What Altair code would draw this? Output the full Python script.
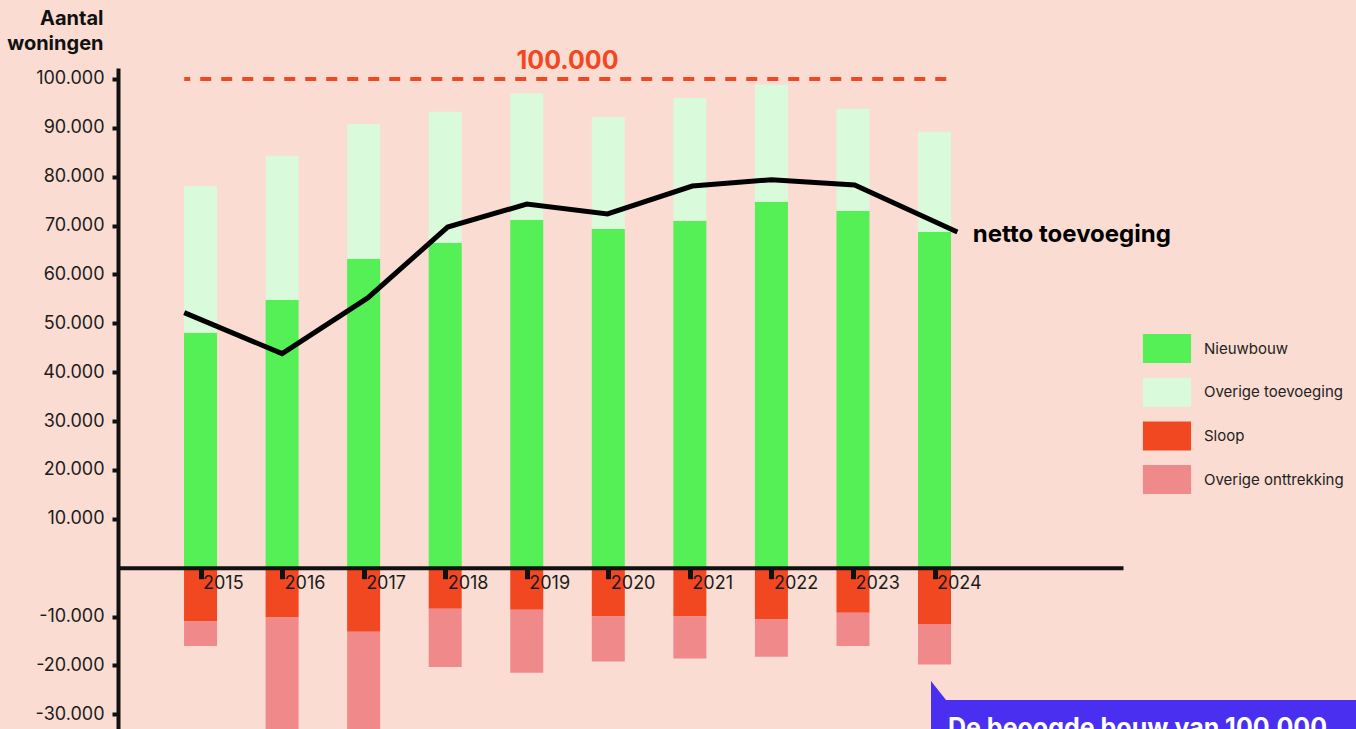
import altair as alt
import pandas as pd

# ---- data ----
years = [2015, 2016, 2017, 2018, 2019, 2020, 2021, 2022, 2023, 2024]
nieuwbouw = [48100, 54800, 63200, 66500, 71200, 69300, 71000, 74900, 73000, 68700]
overige_toevoeging = [30000, 29500, 27600, 26800, 25900, 22900, 25100, 23900, 20900, 20500]
sloop = [-11000, -10200, -13100, -8400, -8600, -10000, -10000, -10600, -9200, -11500]
overige_onttrekking = [-5000, -28000, -24000, -11900, -12900, -9200, -8600, -7600, -6800, -8300]

netto_x = [2014.8, 2016.0, 2017.05, 2018.03, 2019.0, 2019.99, 2021.03, 2022.0, 2023.02, 2024.28]
netto = [52200, 43800, 55200, 69700, 74400, 72400, 78100, 79400, 78300, 68700]

series = ["Nieuwbouw", "Overige toevoeging", "Sloop", "Overige onttrekking"]
colors = ["#55F055", "#DAFADC", "#F24822", "#F08A8A"]

doel_value = 100000
doel_label = "100.000"
doel_start, doel_end = 2014.8, 2024.2
netto_label = "netto toevoeging"
netto_label_pos = (2024.47, 68100)
callout_text = "De beoogde bouw van 100.000"

y_ticks = [-30000, -20000, -10000, 10000, 20000, 30000, 40000, 50000,
           60000, 70000, 80000, 90000, 100000]

FONT = "Inter"
BG = "#FADCD2"
INK = "#111111"

# ---- tables ----
rows = []
for i, yr in enumerate(years):
    rows.append({"jaar": yr, "reeks": series[0], "y0": 0, "y1": nieuwbouw[i]})
    rows.append({"jaar": yr, "reeks": series[1], "y0": nieuwbouw[i],
                 "y1": nieuwbouw[i] + overige_toevoeging[i]})
    rows.append({"jaar": yr, "reeks": series[2], "y0": 0, "y1": sloop[i]})
    rows.append({"jaar": yr, "reeks": series[3], "y0": sloop[i],
                 "y1": sloop[i] + overige_onttrekking[i]})
bars_df = pd.DataFrame(rows)
line_df = pd.DataFrame({"jaar": netto_x, "netto": netto})
doel_df = pd.DataFrame({"x": [doel_start], "x2": [doel_end], "y": [doel_value],
                        "xm": [(doel_start + doel_end) / 2], "label": [doel_label]})
netto_lbl_df = pd.DataFrame({"x": [netto_label_pos[0]], "y": [netto_label_pos[1]],
                             "label": [netto_label]})
callout_df = pd.DataFrame({"label": [callout_text]})

xscale = alt.Scale(domain=[2013.988, 2026.311], nice=False, zero=False, padding=0)
yscale = alt.Scale(domain=[-33000, 102250], nice=False, zero=False)

xaxis = alt.Axis(values=years, format="d", offset=-161.3, title=None, grid=False,
                 labelAlign="left", labelOffset=2, labelBaseline="middle", labelPadding=5,
                 tickSize=11, tickWidth=5, tickColor=INK, domainColor=INK, domainWidth=4,
                 labelFont=FONT, labelFontSize=18, labelColor="#1b1b1b",
                 labelFlush=False, labelOverlap=False, zindex=1)
yaxis = alt.Axis(values=y_ticks, grid=False,
                 labelExpr="replace(replace(format(datum.value, ','), ',', '.'), '\u2212', '-')",
                 tickSize=6, tickWidth=4, tickColor=INK, domainColor=INK, domainWidth=4,
                 labelFont=FONT, labelFontSize=18, labelColor="#1b1b1b", labelPadding=8,
                 title=["Aantal", "woningen"], titleAngle=0, titleAlign="right",
                 titleBaseline="alphabetic", titleX=-15, titleY=-44, titleLineHeight=25,
                 titleFont=FONT, titleFontSize=20, titleFontWeight="bold", titleColor=INK,
                 zindex=1)

bars = alt.Chart(bars_df).mark_bar(size=33, clip=True).encode(
    x=alt.X("jaar:Q", scale=xscale, axis=xaxis),
    y=alt.Y("y0:Q", scale=yscale, axis=yaxis),
    y2="y1:Q",
    color=alt.Color("reeks:N", scale=alt.Scale(domain=series, range=colors),
                    legend=alt.Legend(title=None, orient="none", legendX=1034.5, legendY=266,
                                      symbolType="M-1.66,-1H1.66V1H-1.66Z", symbolSize=841,
                                      symbolStrokeWidth=0, rowPadding=14.7, labelOffset=22.5,
                                      labelFont=FONT, labelFontSize=15, labelColor="#222222",
                                      labelLimit=300)),
)

line = alt.Chart(line_df).mark_line(color="#000000", strokeWidth=5).encode(
    x=alt.X("jaar:Q", scale=xscale),
    y=alt.Y("netto:Q", scale=yscale),
)

doel = alt.Chart(doel_df).mark_rule(color="#F24822", strokeWidth=4,
                                     strokeDash=[11, 10], strokeDashOffset=5).encode(
    x=alt.X("x:Q", scale=xscale), x2="x2:Q", y=alt.Y("y:Q", scale=yscale))
doel_txt = alt.Chart(doel_df).mark_text(color="#F24822", font=FONT, fontSize=25,
                                         fontWeight="bold", dy=-18).encode(
    x=alt.X("xm:Q", scale=xscale), y=alt.Y("y:Q", scale=yscale), text="label:N")

netto_txt = alt.Chart(netto_lbl_df).mark_text(color="#000000", font=FONT, fontSize=24,
                                               fontWeight="bold", align="left",
                                               baseline="middle").encode(
    x=alt.X("x:Q", scale=xscale), y=alt.Y("y:Q", scale=yscale), text="label:N")

callout_box = alt.Chart(callout_df).mark_rect(color="#4A2FF0").encode(
    x=alt.value(813), x2=alt.value(1245), y=alt.value(632), y2=alt.value(720))
callout_tip = alt.Chart(callout_df).mark_point(
    shape="M0,0L0,1.19L0.94,1.19Z", size=1024, filled=True, color="#4A2FF0",
    opacity=1, strokeWidth=0).encode(x=alt.value(813), y=alt.value(613))
callout_txt = alt.Chart(callout_df).mark_text(
    color="#FFFFFF", font=FONT, fontSize=25, fontWeight="bold", align="left",
    baseline="alphabetic").encode(x=alt.value(830), y=alt.value(668), text="label:N")

chart = alt.layer(bars, line, doel, doel_txt, netto_txt, callout_box, callout_tip,
                  callout_txt).properties(
    width=1005, height=661,
    autosize=alt.AutoSizeParams(type="none"),
    padding={"left": 118, "top": 68, "right": 233, "bottom": 0},
    background=BG,
).configure_view(stroke=None)

chart.save("out.html", embed_options={"renderer": "svg", "actions": False})
